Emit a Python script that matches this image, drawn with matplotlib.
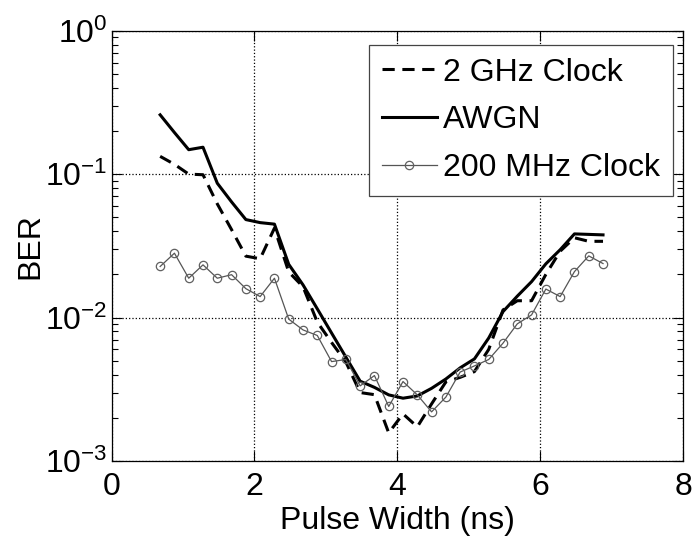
import matplotlib
matplotlib.use("Agg")
import matplotlib.pyplot as plt
from matplotlib.ticker import LogLocator, NullFormatter, FixedLocator

plt.rcParams['font.family'] = ['Liberation Sans', 'DejaVu Sans']
plt.rcParams['mathtext.fontset'] = 'custom'
plt.rcParams['mathtext.rm'] = 'Liberation Sans'
plt.rcParams['mathtext.it'] = 'Liberation Sans:italic'
plt.rcParams['mathtext.bf'] = 'Liberation Sans:bold'

pulse_width = [0.68, 0.88, 1.08, 1.28, 1.48, 1.68, 1.88, 2.08, 2.28, 2.48,
               2.68, 2.88, 3.08, 3.28, 3.48, 3.68, 3.88, 4.08, 4.28, 4.48,
               4.68, 4.88, 5.08, 5.28, 5.48, 5.68, 5.88, 6.08, 6.28, 6.48,
               6.68, 6.88]

ber_2ghz = [0.133, 0.117, 0.100, 0.099, 0.062, 0.041, 0.0268, 0.0257, 0.042, 0.0208,
            0.0164, 0.0093, 0.0067, 0.0049, 0.0030, 0.0029, 0.00157, 0.00213, 0.00173, 0.0025,
            0.00356, 0.00383, 0.0042, 0.0060, 0.0113, 0.0131, 0.0131, 0.0200, 0.029, 0.036,
            0.034, 0.034]

ber_awgn = [0.259, 0.195, 0.148, 0.154, 0.0864, 0.0640, 0.0482, 0.0459, 0.0448, 0.0235,
            0.0169, 0.0115, 0.0078, 0.0053, 0.0036, 0.00326, 0.00289, 0.00274, 0.00284, 0.00321,
            0.00373, 0.00446, 0.00515, 0.0072, 0.0110, 0.0141, 0.0178, 0.0237, 0.0297, 0.0383,
            0.0380, 0.0377]

ber_200mhz = [0.0227, 0.0281, 0.0188, 0.0233, 0.0188, 0.0199, 0.0159, 0.0140, 0.0188, 0.00975,
              0.0082, 0.0075, 0.00493, 0.0051, 0.00334, 0.00394, 0.0024, 0.00358, 0.00289, 0.0022,
              0.00279, 0.00417, 0.0046, 0.0051, 0.00663, 0.00904, 0.01044, 0.0158, 0.0140, 0.0209,
              0.0269, 0.0238]

labels = ['2 GHz Clock', 'AWGN', '200 MHz Clock']
x_ticks = [0, 2, 4, 6, 8]

FS = 23

fig = plt.figure(figsize=(6.93, 5.44), dpi=100)
ax = fig.add_axes([0.161, 0.1526, 0.8246, 0.791])

ax.plot(pulse_width, ber_2ghz, color='black', linestyle=(0, (4, 2.5)), linewidth=2.2,
        label=labels[0])
ax.plot(pulse_width, ber_awgn, color='black', linestyle='-', linewidth=2.2, label=labels[1])
ax.plot(pulse_width, ber_200mhz, color='#555555', linestyle='-', linewidth=0.9,
        marker='o', markersize=6, markerfacecolor='none', markeredgecolor='#606060',
        markeredgewidth=0.9, label=labels[2])

ax.set_yscale('log')
ax.set_xlim(0, 8)
ax.set_ylim(1e-3, 1)
ax.xaxis.set_major_locator(FixedLocator(x_ticks))
ax.yaxis.set_major_locator(LogLocator(base=10, numticks=10))
ax.yaxis.set_minor_locator(LogLocator(base=10, subs=range(2, 10), numticks=10))
ax.yaxis.set_minor_formatter(NullFormatter())

ax.tick_params(which='both', direction='in', top=True, right=True, labelsize=FS,
               width=0.8, color='black')
ax.tick_params(which='major', length=7)
ax.tick_params(which='minor', length=4)
ax.tick_params(axis='x', which='major', pad=8)
ax.tick_params(axis='y', which='major', pad=3)

ax.grid(True, which='major', linestyle=':', color='black', linewidth=0.9)
for s in ax.spines.values():
    s.set_linewidth(0.9)

ax.set_xlabel('Pulse Width (ns)', fontsize=FS, labelpad=3)
ax.set_ylabel('BER', fontsize=FS, labelpad=0)

leg = ax.legend(loc='upper right', bbox_to_anchor=(0.982, 0.967), fontsize=FS,
                frameon=True, fancybox=False, edgecolor='#444444', framealpha=1,
                borderpad=0.4, labelspacing=0.55, handlelength=1.7, handletextpad=0.2,
                borderaxespad=0.0)
leg.get_frame().set_linewidth(0.9)

fig.savefig('out.png', dpi=100)
